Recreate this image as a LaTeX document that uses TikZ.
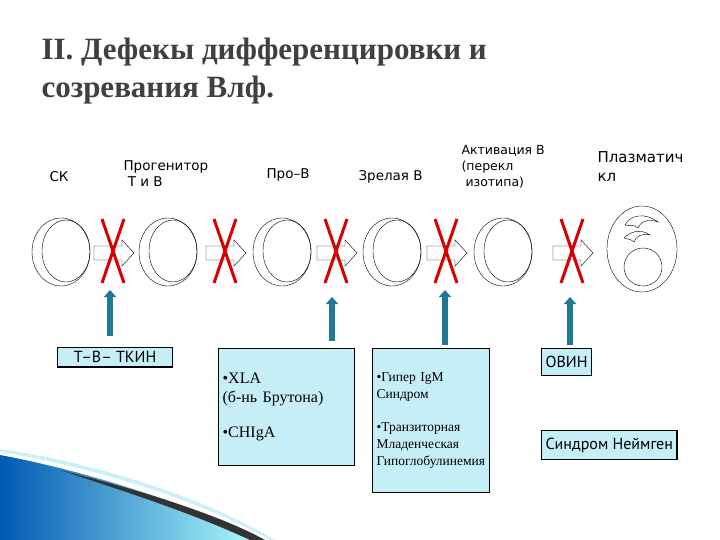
\documentclass[tikz,border=0pt]{standalone}
\usepackage{fontspec}
\setmainfont{Liberation Serif}
\newfontfamily\lab{DejaVu Sans}
\newfontfamily\bx{PT Sans}
\definecolor{arrblue}{HTML}{1F7894}
\definecolor{boxfill}{HTML}{C6EEF7}
\usetikzlibrary{arrows.meta}
\begin{document}
\begin{tikzpicture}[x=1pt,y=-1pt,
 cellring/.style={draw,thin},
 flowarrow/.style={draw,thin,fill=white},
 redx/.style={draw=red!85!black,line width=3pt},
 uparrow/.style={draw=arrblue,line width=6pt,-{Triangle[length=7pt,width=12pt]}},
 infobox/.style={draw,line width=1.2pt,fill=boxfill,anchor=north west,align=left,inner sep=4pt},
 toplabel/.style={font=\lab\fontsize{13.5}{16}\selectfont,align=left,anchor=west}]
\useasboundingbox (0,0) rectangle (720,540);
% swoosh
\shade[left color=cyan!50!blue!70!black,right color=cyan!30] (0,455) -- (0,540) -- (265,540) .. controls (180,500) and (80,470) .. (0,455);
\fill[black!80] (60,470) .. controls (140,490) and (220,515) .. (265,540) -- (250,540) .. controls (190,512) and (120,490) .. (60,470);
\fill[cyan!20] (0,452) .. controls (80,465) and (190,495) .. (270,540) -- (275,540) .. controls (200,495) and (90,462) .. (0,449) -- cycle;
% title
\node[anchor=west,text=black!75,font=\bfseries\fontsize{31}{34}\selectfont] (t1) at (38,52) {II. Дефекы дифференцировки и};
\node[anchor=west,text=black!75,font=\bfseries\fontsize{31}{34}\selectfont] (t2) at (38,90) {созревания Влф.};
% labels
\node[toplabel] (l1) at (46,177) {СК};
\node[toplabel] (l2) at (120,174) {Прогенитор\\\ Т и В};
\node[toplabel] (l3) at (263,175) {Про–В};
\node[toplabel] (l4) at (355,177) {Зрелая В};
\node[toplabel,font=\lab\fontsize{12.5}{16}\selectfont] (l5) at (458,167) {Активация В\\(перекл\\\ изотипа)};
\node[toplabel,font=\lab\fontsize{15}{19}\selectfont] (l6) at (594,167) {Плазматич\\кл};
% cells
\foreach \c/\n in {61/c1,168/c2,282/c3,392/c4,503/c5}{
 \draw[cellring] (\c,252) ellipse (29 and 34);
 \draw[cellring] (\c+5,251) ellipse (24 and 31);
 \coordinate (\n) at (\c,252);
}
% plasma cell
\draw[cellring] (642,249) ellipse (35 and 43);
\draw[cellring] (643,267) circle (19);
\draw[thin] (625,225) .. controls (630,215) and (645,212) .. (658,222) .. controls (648,218) and (640,222) .. (638,228) .. controls (634,224) and (628,226) .. (625,225);
\draw[thin] (624,238) .. controls (630,232) and (640,228) .. (650,235) .. controls (642,233) and (636,236) .. (634,242) .. controls (630,238) and (627,240) .. (624,238);
% flow arrows and crosses
\foreach \a/\n in {94/a1,206/a2,317/a3,427/a4,553/a5}{
 \draw[flowarrow] (\a,246) -- (\a+28,246) -- (\a+28,240) -- (\a+40,253) -- (\a+28,266) -- (\a+28,260) -- (\a,260) -- cycle;
 \draw[redx] (\a+8,219) -- (\a+30,283);
 \draw[redx] (\a+30,219) -- (\a+8,283);
}
\coordinate (a1) at (110,290);
\coordinate (a3) at (332,297);
\coordinate (a4) at (445,290);
\coordinate (a5) at (570,297);
% boxes
\node[infobox,font=\bx\fontsize{16}{18}\selectfont,minimum width=115pt,align=center] (b1) at (57,347) {Т–В– ТКИН};
\node[infobox,font=\fontsize{16}{19}\selectfont,text width=128pt,minimum height=117pt,anchor=north west] (b2) at (218,348) {•XLA\\(б-нь Брутона)\\[16pt]•CHIgA\\[28pt]};
\node[infobox,font=\fontsize{13.5}{17}\selectfont,text width=109pt,minimum height=144pt] (b3) at (372,348) {•Гипер IgM\\Синдром\\[16pt]•Транзиторная\\Младенческая\\Гипоглобулинемия\\[20pt]};
\node[infobox,font=\bx\fontsize{16}{18}\selectfont,minimum height=27pt] (b4) at (541,348) {ОВИН};
\node[infobox,font=\bx\fontsize{16}{18}\selectfont,minimum height=29pt] (b5) at (541,430) {Синдром Неймген};
% up arrows
\draw[uparrow] (110,336) -- (a1);
\draw[uparrow] (332,341) -- (a3);
\draw[uparrow] (445,345) -- (a4);
\draw[uparrow] (570,345) -- (a5);
\end{tikzpicture}
\end{document}
